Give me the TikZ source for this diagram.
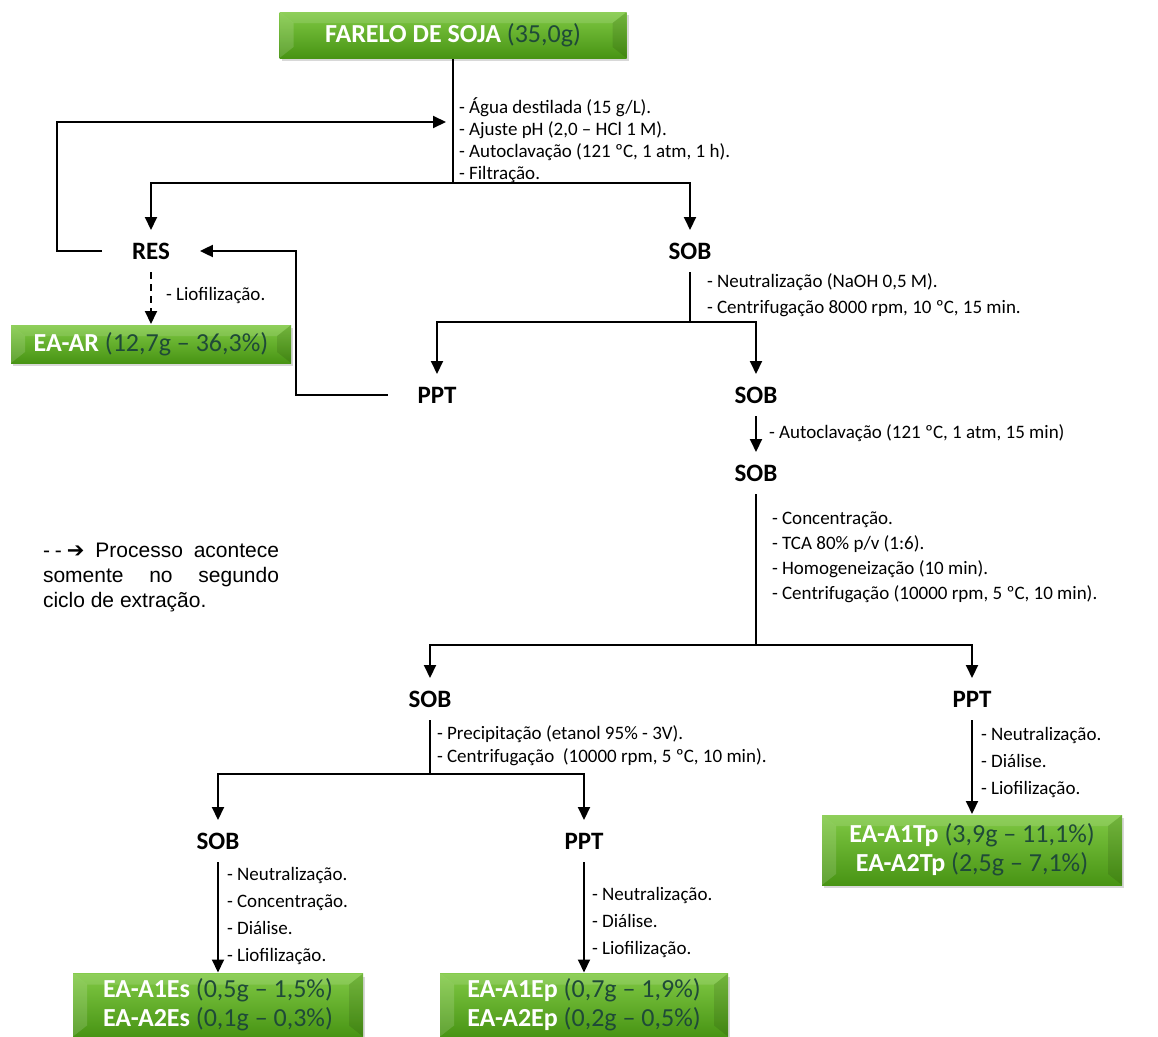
\documentclass[tikz,border=0pt]{standalone}
\usepackage{fontspec}
\setmainfont{Carlito}
\newfontfamily\legendfont{Liberation Sans}
\newfontfamily\arrowfont{DejaVu Sans}
\usepackage{xcolor}
\definecolor{boxtop}{HTML}{80C944}
\definecolor{boxbottom}{HTML}{489414}
\definecolor{boxnum}{HTML}{1F4A38}
\usetikzlibrary{arrows.meta,shadows}
\newcommand{\prodname}[1]{\textcolor{white}{\bfseries #1}}

\begin{document}
\begin{tikzpicture}[x=1pt,y=-1pt,line width=2pt,
  >={Triangle[length=13pt,width=12pt]},
  point/.style={coordinate},
  stage/.style={font=\fontsize{25}{30}\selectfont\bfseries, inner sep=0pt, text height=16pt, text depth=0pt, outer xsep=30pt, outer ysep=13pt},
  note/.style={font=\fontsize{19}{#1}\selectfont, anchor=west, align=left, inner sep=0pt},
  note/.default=22,
  product/.style={top color=boxtop, bottom color=boxbottom, text=boxnum, font=\fontsize{26}{29}\selectfont, align=center, inner sep=0pt,
    drop shadow={shadow xshift=2pt, shadow yshift=-3pt, opacity=.3},
    path picture={
      \fill[white, opacity=.14] (path picture bounding box.north west) -- ([xshift=14pt,yshift=-11pt]path picture bounding box.north west) -- ([xshift=14pt,yshift=11pt]path picture bounding box.south west) -- (path picture bounding box.south west) -- cycle;
      \fill[black, opacity=.10] (path picture bounding box.north east) -- ([xshift=-14pt,yshift=-11pt]path picture bounding box.north east) -- ([xshift=-14pt,yshift=11pt]path picture bounding box.south east) -- (path picture bounding box.south east) -- cycle;
      \fill[white, opacity=.12] (path picture bounding box.north west) -- (path picture bounding box.north east) -- ([xshift=-14pt,yshift=-11pt]path picture bounding box.north east) -- ([xshift=14pt,yshift=-11pt]path picture bounding box.north west) -- cycle;
    }}]
\fill[white] (0,0) rectangle (1158,1036);
\useasboundingbox (0,0) rectangle (1158,1036);

% produtos
\node[product, minimum width=347pt, minimum height=46pt] (soja) at (453,35) {\prodname{FARELO DE SOJA} (35,0g)};
\node[product, minimum width=280pt, minimum height=38pt] (ear) at (151,344) {\prodname{EA-AR} (12,7g – 36,3\%)};
\node[product, minimum width=300pt, minimum height=70pt] (eatp) at (972,850) {\prodname{EA-A1Tp} (3,9g – 11,1\%)\\\prodname{EA-A2Tp} (2,5g – 7,1\%)};
\node[product, minimum width=290pt, minimum height=63pt] (eaes) at (218,1005) {\prodname{EA-A1Es} (0,5g – 1,5\%)\\\prodname{EA-A2Es} (0,1g – 0,3\%)};
\node[product, minimum width=288pt, minimum height=63pt] (eaep) at (584,1005) {\prodname{EA-A1Ep} (0,7g – 1,9\%)\\\prodname{EA-A2Ep} (0,2g – 0,5\%)};

% fracoes
\node[stage] (res) at (151,251) {RES};
\node[stage] (sob1) at (690,251) {SOB};
\node[stage] (ppt1) at (437,395) {PPT};
\node[stage] (sob2) at (756,395) {SOB};
\node[stage] (sob3) at (756,473) {SOB};
\node[stage] (sob4) at (430,699) {SOB};
\node[stage] (ppt2) at (972,699) {PPT};
\node[stage] (sob5) at (218,841) {SOB};
\node[stage] (ppt3) at (584,841) {PPT};

\node[point] (j1) at (453,183) {};
\node[point] (loop) at (57,122) {};
\node[point] (fb) at (446,122) {};
\node[point] (ret) at (296,395) {};
\node[point] (j2) at (690,322) {};
\node[point] (j3) at (756,645) {};
\node[point] (j4) at (430,774) {};

\draw (soja) -- (j1);
\draw[->] (j1) -| (res);
\draw[->] (j1) -| (sob1);
\draw[->] (res.west) -| (loop) -- (fb);
\draw[->] (ppt1.west) -- (ret) |- (res.east);
\draw[->, dash pattern=on 7pt off 5pt] (res) -- (ear);
\draw (sob1) -- (j2);
\draw[->] (j2) -| (ppt1);
\draw[->] (j2) -| (sob2);
\draw[->] (sob2) -- (sob3);
\draw (sob3) -- (j3);
\draw[->] (j3) -| (sob4);
\draw[->] (j3) -| (ppt2);
\draw[->] (ppt2) -- (eatp);
\draw (sob4) -- (j4);
\draw[->] (j4) -| (sob5);
\draw[->] (j4) -| (ppt3);
\draw[->] (sob5) -- (eaes);
\draw[->] (ppt3) -- (eaep);

% etapas
\node[note] (n1) at (458,140) {- Água destilada (15 g/L).\\- Ajuste pH (2,0 – HCl 1 M).\\- Autoclavação (121 ºC, 1 atm, 1 h).\\- Filtração.};
\node[note] (n2) at (165,295) {- Liofilização.};
\node[note=26] (n3) at (706,295) {- Neutralização (NaOH 0,5 M).\\- Centrifugação 8000 rpm, 10 ºC, 15 min.};
\node[note] (n4) at (768,433) {- Autoclavação (121 ºC, 1 atm, 15 min)};
\node[note=25] (n5) at (771,557) {- Concentração.\\- TCA 80\% p/v (1:6).\\- Homogeneização (10 min).\\- Centrifugação (10000 rpm, 5 ºC, 10 min).};
\node[note=23] (n6) at (436,746) {- Precipitação (etanol 95\% - 3V).\\- Centrifugação\ \ (10000 rpm, 5 ºC, 10 min).};
\node[note=27] (n7) at (980,762) {- Neutralização.\\- Diálise.\\- Liofilização.};
\node[note=27] (n8) at (226,916) {- Neutralização.\\- Concentração.\\- Diálise.\\- Liofilização.};
\node[note=27] (n9) at (591,922) {- Neutralização.\\- Diálise.\\- Liofilização.};

% legenda
\node[anchor=north west, text width=236pt, align=justify, inner sep=0pt, font=\legendfont\fontsize{21}{25}\selectfont] (legend) at (42,542)
  {-\kern5pt-\kern5pt{\arrowfont ➔} Processo acontece\linebreak somente no segundo\linebreak ciclo de extração.};
\end{tikzpicture}
\end{document}
